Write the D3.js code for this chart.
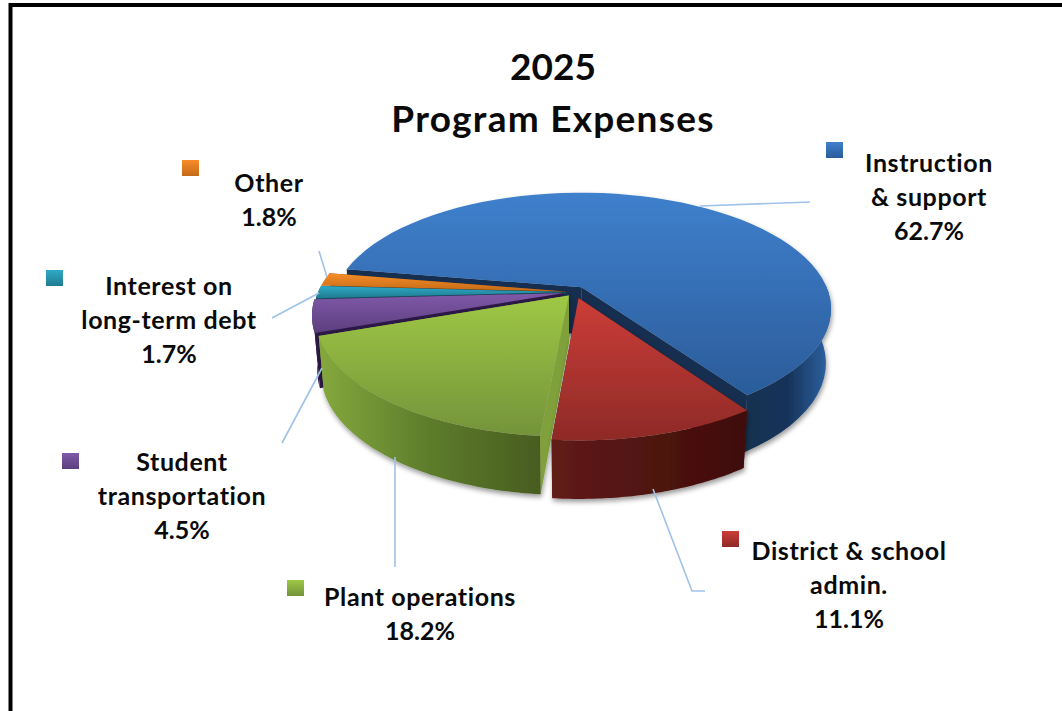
<!DOCTYPE html>
<html>
<head>
<meta charset="utf-8">
<script src="https://cdn.jsdelivr.net/npm/d3@7"></script>
<style>
  html, body { margin: 0; padding: 0; background: #fff; overflow: hidden; }
  text { font-family: Lato, sans-serif; font-weight: 700; fill: #0a0a0a; text-anchor: middle; }
</style>
</head>
<body>
<div id="chart"></div>
<script>
// data
const categories = ["Instruction & support", "District & school admin.", "Plant operations", "Student transportation", "Interest on long-term debt", "Other"];
const values = [62.7, 11.1, 18.2, 4.5, 1.7, 1.8];
const titleLines = ["2025", "Program Expenses"];
const labelLines = [
  ["Instruction", "& support"],
  ["District & school", "admin."],
  ["Plant operations"],
  ["Student", "transportation"],
  ["Interest on", "long-term debt"],
  ["Other"],
];

// styles, one per slice
const topColors = [["#3f80cd", "#2b5c9a"], ["#cc3d38", "#8e2a27"], ["#9fc845", "#74933a"], ["#8059a8", "#5c3e7e"], ["#2fa9c6", "#1f7b90"], ["#f78d28", "#c46a18"]];
const wallColors = [["#14304f", "#16335a", "#2f65a6"], ["#621b18", "#4f1311", "#3f0e0c"], ["#85a83d", "#5d7c2c", "#485c1f"], ["#2e1a4a", "#2e1a4a", "#2e1a4a"], ["#14515f", "#14515f", "#14515f"], ["#7a430f", "#7a430f", "#7a430f"]];
const edgeColors = ["#142e50", "#3f0e0c", "#7fa03a", "#2c1846", "#134a58", "#6e3c0e"];
const explode = [0.05, 0.055, 0.04, 0.045, 0.04, 0.04];
const paintOrder = [0, 5, 4, 3, 2, 1];

// layout of the labels, legend keys and leader lines
const labelPos = [[929, 172], [849, 560], [420, 606], [182, 471], [169, 295], [269, 192]];
const keyPos = [[826, 142], [722, 531], [287, 580], [62, 453], [46, 270], [182, 160]];
const leaders = [
  [[700, 206], [810, 202]],
  [[653, 489], [692, 591], [705, 591]],
  [[395, 457], [395, 567]],
  [[322, 368], [282, 443]],
  [[319, 293], [272, 318]],
  [[327, 277], [319, 251]],
];

const width = 1062;
const height = 711;
const svg = d3.select("#chart").append("svg").attr("width", width).attr("height", height);
const defs = svg.append("defs");

// pie plane -> screen, with a bit of perspective
const ox = 575, oy = 292, rx = 247, ry = 113.6, persp = 0.184, depth = 47;
function project(u, v, z, r) {
  const s = 1 / (1 - persp * v);
  const wall = depth * (1 + 0.14 * r + 0.1 * v);
  return [ox + u * s * rx * (1 - 0.02 * z), oy + v * s * ry + z * wall];
}

const deg = Math.PI / 180;
const pie = d3.pie().sort(null).value((d) => d).startAngle(-80.5 * deg).endAngle(279.5 * deg);
const line = d3.line();

const shadow = defs.append("filter").attr("id", "soft").attr("x", "-10%").attr("y", "-10%").attr("width", "120%").attr("height", "125%");
shadow.append("feDropShadow").attr("dx", 1).attr("dy", 3).attr("stdDeviation", 2.5).attr("flood-color", "#000").attr("flood-opacity", 0.4);

function gradient(id, stops, horizontal) {
  const g = defs.append("linearGradient").attr("id", id)
    .attr("x1", 0).attr("y1", 0).attr("x2", horizontal ? 1 : 0).attr("y2", horizontal ? 0 : 1);
  stops.forEach((c, i) => {
    g.append("stop").attr("offset", i / (stops.length - 1)).attr("stop-color", c);
  });
}

const arcs = pie(values);
const plot = svg.append("g");

paintOrder.forEach((i) => {
  const d = arcs[i];
  const mid = (d.startAngle + d.endAngle) / 2;
  const u0 = explode[i] * Math.sin(mid);
  const v0 = -explode[i] * Math.cos(mid);
  const steps = d3.range(0, 61).map((t) => d.startAngle + (d.endAngle - d.startAngle) * t / 60);
  const rim = (z) => steps.map((a) => project(u0 + Math.sin(a), v0 - Math.cos(a), z, 1));
  const apex = (z) => project(u0, v0, z, 0);
  const top = rim(0);
  const bottom = rim(1);

  gradient("top" + i, topColors[i], false);
  gradient("wall" + i, wallColors[i], true);

  const slice = plot.append("g").attr("filter", i < 3 ? "url(#soft)" : null);

  // the two cut faces
  [0, top.length - 1].forEach((k) => {
    slice.append("path")
      .attr("d", line([apex(0), top[k], bottom[k], apex(1)]) + "Z")
      .attr("fill", edgeColors[i]);
  });

  // only the part of the rim that faces the viewer gets a shaded wall
  const front = d3.range(top.length).filter((k) => Math.cos(steps[k]) < 0.05);
  if (front.length > 1) {
    const wall = front.map((k) => top[k]).concat(front.map((k) => bottom[k]).reverse());
    slice.append("path").attr("d", line(wall) + "Z").attr("fill", `url(#wall${i})`);
  }

  slice.append("path")
    .attr("d", line([apex(0)].concat(top)) + "Z")
    .attr("fill", `url(#top${i})`);
});

// leader lines
svg.append("g").selectAll("path").data(leaders).join("path")
  .attr("d", (d) => line(d))
  .attr("fill", "none")
  .attr("stroke", "#9fc2e8")
  .attr("stroke-width", 1.6);

// legend keys
svg.append("g").selectAll("rect").data(values).join("rect")
  .attr("x", (d, i) => keyPos[i][0])
  .attr("y", (d, i) => keyPos[i][1])
  .attr("width", 17)
  .attr("height", 16)
  .attr("fill", (d, i) => `url(#top${i})`);

// data labels, words opened up a little to match the wider face of the original
const labels = svg.append("g").selectAll("text").data(values).join("text")
  .attr("font-size", 25)
  .attr("x", (d, i) => labelPos[i][0])
  .attr("y", (d, i) => labelPos[i][1]);
labels.each(function (d, i) {
  const rows = labelLines[i].concat(d3.format(".1f")(d) + "%");
  d3.select(this).selectAll("tspan").data(rows).join("tspan")
    .attr("x", labelPos[i][0])
    .attr("dy", (r, k) => (k ? 34 : 0))
    .attr("letter-spacing", (r, k) => (k < rows.length - 1 ? 0.6 : 0))
    .text((r) => r);
});

// title
svg.append("g").selectAll("text").data(titleLines).join("text")
  .attr("x", 553)
  .attr("y", (d, i) => 80 + i * 52)
  .attr("font-size", 37)
  .attr("letter-spacing", (d, i) => (i ? 1.25 : 0))
  .text((d) => d);

// frame, open on the right and at the bottom
svg.append("path")
  .attr("d", line([[10.5, height], [10.5, 5], [width, 5]]))
  .attr("fill", "none")
  .attr("stroke", "#000")
  .attr("stroke-width", 4);
</script>
</body>
</html>
